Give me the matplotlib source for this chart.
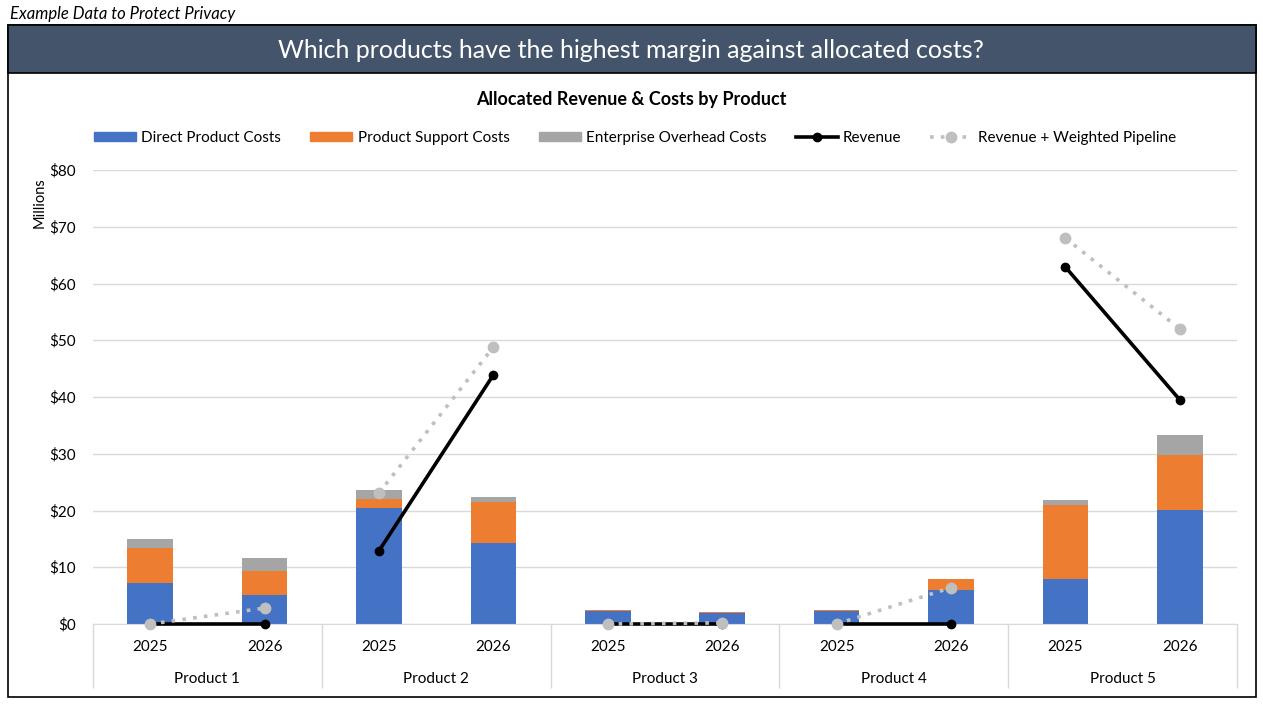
import matplotlib
matplotlib.use("Agg")
import matplotlib.pyplot as plt
from matplotlib.patches import Rectangle
from matplotlib.lines import Line2D
import numpy as np

plt.rcParams['font.family'] = ['Lato', 'DejaVu Sans']

# Data (millions)
products = ['Product 1', 'Product 2', 'Product 3', 'Product 4', 'Product 5']
years = ['2025', '2026']
direct = [7.2, 5.1, 20.4, 14.3, 2.3, 1.9, 2.3, 6.0, 7.9, 20.1]
support = [6.2, 4.2, 1.6, 7.2, 0.2, 0.2, 0.2, 1.9, 13.1, 9.7]
overhead = [1.6, 2.3, 1.6, 0.9, 0.05, 0.05, 0.05, 0.05, 0.9, 3.5]
revenue = [0.0, 0.0, 12.9, 43.9, 0.0, 0.0, 0.0, 0.0, 62.9, 39.5]
pipeline = [0.0, 2.8, 23.1, 48.8, 0.0, 0.2, 0.0, 6.4, 68.0, 52.0]

W, H = 1263, 706
fig = plt.figure(figsize=(W / 100, H / 100), dpi=100)

# outer frame and banner
fig.patches.append(Rectangle((8 / W, 1 - 697 / H), 1248 / W, 672 / H, transform=fig.transFigure,
                             fill=False, edgecolor='black', lw=1.2))
fig.patches.append(Rectangle((8 / W, 1 - 73 / H), 1248 / W, 48 / H, transform=fig.transFigure,
                             facecolor='#44546A', edgecolor='black', lw=1.2))
fig.text(10 / W, 1 - 14 / H, 'Example Data to Protect Privacy', fontsize=12, style='italic',
         ha='left', va='center')
fig.text(631 / W, 1 - 50 / H, 'Which products have the highest margin against allocated costs?',
         fontsize=18, color='white', ha='center', va='center')
fig.text(631 / W, 1 - 99 / H, 'Allocated Revenue & Costs by Product', fontsize=13,
         fontweight='bold', ha='center', va='center')

ax = fig.add_axes([93 / W, 1 - 624 / H, (1237 - 93) / W, (624 - 170) / H])
x = np.arange(len(direct)) + 0.5
bw = 0.4
bottom2 = np.array(direct) + np.array(support)
ax.bar(x, direct, bw, color='#4472C4', label='Direct Product Costs', zorder=2)
ax.bar(x, support, bw, bottom=direct, color='#ED7D31', label='Product Support Costs', zorder=2)
ax.bar(x, overhead, bw, bottom=bottom2, color='#A5A5A5', label='Enterprise Overhead Costs', zorder=2)

for i in range(len(products)):
    s = slice(2 * i, 2 * i + 2)
    ax.plot(x[s], revenue[s], color='black', lw=2.6, marker='o', ms=6, zorder=3, clip_on=False)
    ax.plot(x[s], pipeline[s], color='#BFBFBF', lw=2.6, ls=(0, (1, 2)), marker='o', ms=7.5,
            zorder=4, clip_on=False)

ax.set_xlim(0, 10)
ax.set_ylim(0, 80)
ax.set_yticks(range(0, 81, 10))
ax.set_yticklabels([f'${v}' for v in range(0, 81, 10)], fontsize=11)
ax.yaxis.grid(True, color='#D9D9D9', lw=1, zorder=0)
ax.tick_params(axis='y', length=0, pad=12)
for sp in ['top', 'right', 'left']:
    ax.spines[sp].set_visible(False)
ax.spines['bottom'].set_color('#D9D9D9')

ax.set_xticks(np.arange(0, 11, 2))
ax.set_xticklabels([])
ax.tick_params(axis='x', length=46, color='#D9D9D9', width=1)

trans = ax.get_xaxis_transform()
for i, p in enumerate(products):
    ax.text(2 * i + 1, -55 / 454, p, transform=trans, ha='center', va='center', fontsize=11)
    for j, yr in enumerate(years):
        ax.text(x[2 * i + j], -23 / 454, yr, transform=trans, ha='center', va='center', fontsize=11)

fig.text(40 / W, 1 - 203 / H, 'Millions', rotation=90, ha='center', va='center', fontsize=10.5)

handles = [
    Rectangle((0, 0), 1, 1, color='#4472C4'),
    Rectangle((0, 0), 1, 1, color='#ED7D31'),
    Rectangle((0, 0), 1, 1, color='#A5A5A5'),
    Line2D([], [], color='black', lw=2.6, marker='o', ms=6),
    Line2D([], [], color='#BFBFBF', lw=2.6, ls=(0, (1, 2)), marker='o', ms=7.5),
]
labels = ['Direct Product Costs', 'Product Support Costs', 'Enterprise Overhead Costs',
          'Revenue', 'Revenue + Weighted Pipeline']
fig.legend(handles, labels, ncol=5, loc='center', bbox_to_anchor=(635 / W, 1 - 138 / H),
           frameon=False, fontsize=11, handlelength=2.75, handleheight=0.6, columnspacing=1.9,
           handletextpad=0.35)

fig.savefig('out.png', dpi=100)
